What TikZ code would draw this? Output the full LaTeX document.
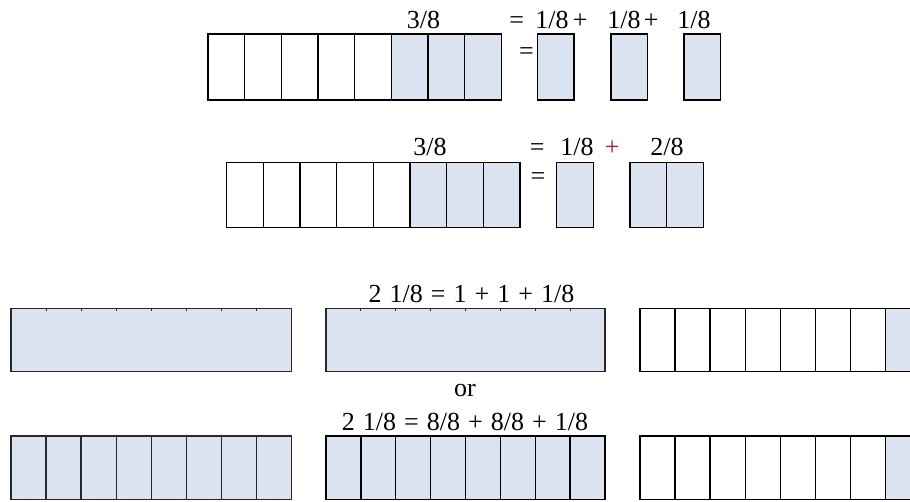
\documentclass[tikz,border=0pt]{standalone}
\usepackage{fontspec}
\setmainfont{Liberation Serif}
\definecolor{cellfill}{RGB}{220,227,240}
\definecolor{plusred}{RGB}{165,30,40}
\definecolor{edge}{RGB}{40,40,40}
\newcommand\mylblfont{\fontsize{19.5}{22}\selectfont}
\newcommand\mywidefont{\fontsize{19.5}{22}\selectfont\spaceskip 0.31em\relax}
\tikzset{
  cellline/.style={draw=black, line width=1.1pt},
  grayline/.style={draw=edge, line width=1.1pt},
  lbl/.style={font=\mylblfont, inner sep=0pt, anchor=base west},
  clbl/.style={font=\mywidefont, inner sep=0pt, anchor=base},
}
\begin{document}
\begin{tikzpicture}[x=0.75pt,y=-0.75pt]
\useasboundingbox (0,0) rectangle (910,501);
\clip (0,0) rectangle (910,501);

% ---------- Row 1 ----------
\fill[cellfill] (391.1,34) rectangle (501.4,100);
\draw[cellline] (208,34) rectangle (501.4,100);
\foreach \k in {1,...,7} \draw[cellline] ({208+36.675*\k},34) -- ++(0,66);
\foreach \xa in {537.5,611,684} \draw[cellline,fill=cellfill] (\xa,34) rectangle ++(36.5,66);
\node[lbl] (r1frac) at (406.7,28) {3/8};
\node[lbl] (r1eq) at (509,28) {=};
\node[lbl] (r1a) at (535,28) {1/8};
\node[lbl] (r1p1) at (572.5,28) {+};
\node[lbl] (r1b) at (607,28) {1/8};
\node[lbl] (r1p2) at (643.5,28) {+};
\node[lbl] (r1c) at (677,28) {1/8};
\node[clbl] (r1eqb) at (526.5,59) {=};

% ---------- Row 2 ----------
\fill[cellfill] (410,162.3) rectangle (520,227.3);
\draw[cellline] (226.7,162.3) rectangle (520,227.3);
\foreach \k in {1,...,7} \draw[cellline] ({226.7+36.66*\k},162.3) -- ++(0,65);
\draw[cellline,fill=cellfill] (556.7,162.3) rectangle (593.3,227.3);
\draw[cellline,fill=cellfill] (630,162.3) rectangle (703.3,227.3);
\draw[cellline] (666.7,162.3) -- (666.7,227.3);
\node[lbl] (r2frac) at (413,155.3) {3/8};
\node[lbl] (r2eq) at (529.5,155.3) {=};
\node[lbl] (r2a) at (560,155.3) {1/8};
\node[lbl,text=plusred] (r2p) at (604.5,155.3) {+};
\node[lbl] (r2b) at (650,155.3) {2/8};
\node[clbl] (r2eqb) at (538,184) {=};

% ---------- Row 3 ----------
\node[clbl] (r3txt) at (471.5,302) {2 1/8 = 1 + 1 + 1/8};
% left whole
\draw[grayline,fill=cellfill] (11,308.3) rectangle (291.7,371.7);
\foreach \k in {1,...,7} \draw[grayline,line width=0.8pt] ({11+35.09*\k},308.3) -- ++(0,3);
% middle whole
\draw[grayline,fill=cellfill] (326,308.3) rectangle (605,371.7);
\foreach \k in {1,...,7} \draw[grayline,line width=0.8pt] ({326+34.875*\k},308.3) -- ++(0,3);
% right eighths
\fill[cellfill] (885.6,308.3) rectangle (925,371.7);
\draw[cellline] (640,308.3) rectangle (921,371.7);
\foreach \k in {1,...,7} \draw[cellline] ({640+35.09*\k},308.3) -- ++(0,63.4);

\node[clbl] (r3or) at (465,396.7) {or};

% ---------- Row 4 ----------
\node[clbl] (r4txt) at (465,430) {2 1/8 = 8/8 + 8/8 + 1/8};
\fill[cellfill] (11,436) rectangle (291.7,499.5);
\draw[grayline] (11,436) rectangle (291.7,499.5);
\foreach \k in {1,...,7} \draw[grayline] ({11+35.09*\k},436) -- ++(0,63.5);
\fill[cellfill] (326,436) rectangle (605,499.5);
\draw[cellline] (326,436) rectangle (605,499.5);
\foreach \k in {1,...,7} \draw[cellline] ({326+34.875*\k},436) -- ++(0,63.5);
\fill[cellfill] (885.6,436) rectangle (925,499.5);
\draw[cellline] (640,436) rectangle (921,499.5);
\foreach \k in {1,...,7} \draw[cellline] ({640+35.09*\k},436) -- ++(0,63.5);
\end{tikzpicture}
\end{document}
